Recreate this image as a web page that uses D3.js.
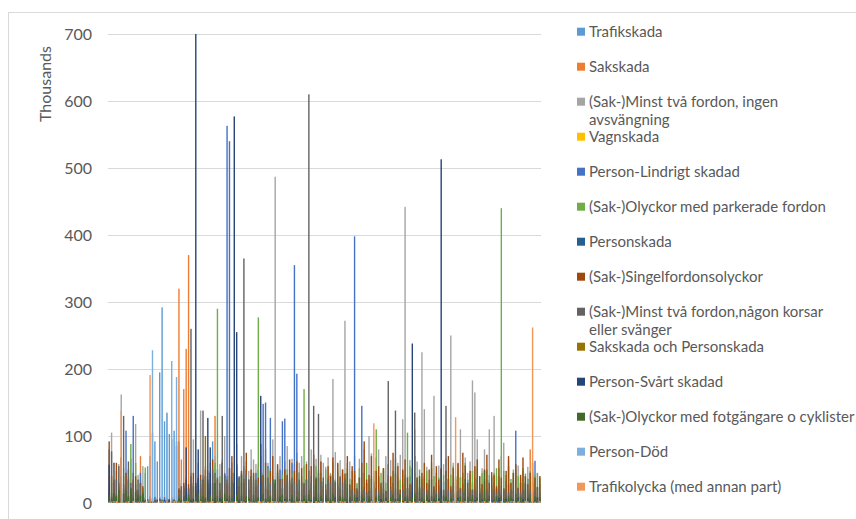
<!DOCTYPE html>
<html>
<head>
<meta charset="utf-8">
<script src="https://cdn.jsdelivr.net/npm/d3@7"></script>
<style>
  html, body { margin: 0; padding: 0; background: #fff; }
  svg { display: block; }
  text { font-family: Lato, "Open Sans", sans-serif; }
</style>
</head>
<body>
<svg id="chart" width="856" height="519"></svg>
<script>
// Olyckor per kategori (tusental), 180 kategorier, 14 serier
const categoryCount = 180;
const categories = Array.from({ length: categoryCount }, (_, i) => i + 1);

const seriesNames = [
  "Trafikskada", "Sakskada", "(Sak-)Minst två fordon, ingen avsvängning", "Vagnskada",
  "Person-Lindrigt skadad", "(Sak-)Olyckor med parkerade fordon", "Personskada",
  "(Sak-)Singelfordonsolyckor", "(Sak-)Minst två fordon,någon korsar eller svänger",
  "Sakskada och Personskada", "Person-Svårt skadad", "(Sak-)Olyckor med fotgängare o cyklister",
  "Person-Död", "Trafikolycka (med annan part)"
];
const legendLines = [
  ["Trafikskada"], ["Sakskada"], ["(Sak-)Minst två fordon, ingen", "avsvängning"], ["Vagnskada"],
  ["Person-Lindrigt skadad"], ["(Sak-)Olyckor med parkerade fordon"], ["Personskada"],
  ["(Sak-)Singelfordonsolyckor"], ["(Sak-)Minst två fordon,någon korsar", "eller svänger"],
  ["Sakskada och Personskada"], ["Person-Svårt skadad"], ["(Sak-)Olyckor med fotgängare o cyklister"],
  ["Person-Död"], ["Trafikolycka (med annan part)"]
];
const seriesColors = [
  "#5B9BD5", "#ED7D31", "#A5A5A5", "#FFC000", "#4472C4", "#70AD47", "#255E91",
  "#9E480E", "#636363", "#997300", "#264478", "#43682B", "#7CAFDD", "#F1975A"
];

const yTicks = [0, 100, 200, 300, 400, 500, 600, 700];

const trafikskada = [
  10,8,12,6,14,9,20,11,7,15,12,8,18,10,14,45,55,70,105,92,
  62,195,292,122,134,103,95,108,85,92,30,22,18,15,22,12,18,15,20,14,
  18,25,16,92,12,20,15,22,18,30,25,12,10,16,22,14,20,18,12,15,
  24,16,20,12,18,22,14,10,26,15,12,18,20,14,16,22,12,18,10,15,
  20,14,12,18,22,16,10,14,20,12,18,15,22,16,12,20,14,10,18,16,
  12,18,22,15,10,14,20,16,12,18,14,22,10,16,20,12,18,14,15,22,
  16,12,20,14,18,10,22,15,12,20,16,14,18,12,10,20,15,22,14,16,
  18,14,10,20,16,12,22,14,18,16,12,20,10,14,18,22,16,12,20,14,
  12,20,16,14,22,18,10,15,20,12,16,14,18,22,12,16,20,14,10,12
];
const sakskada = [
  5,12,8,15,10,22,14,6,18,12,9,16,8,70,12,4,3,5,2,4,
  3,5,2,4,6,3,5,2,4,320,65,170,230,370,28,22,15,20,18,25,
  30,18,22,24,130,15,28,20,12,18,25,14,20,16,22,10,18,14,24,12,
  18,22,14,26,16,20,12,18,24,14,20,16,22,12,18,26,14,20,16,22,
  14,20,16,24,12,18,22,14,16,20,12,24,18,14,22,16,20,12,18,14,
  20,16,22,12,18,14,24,16,20,12,18,22,14,16,20,12,24,18,14,16,
  18,12,20,16,22,14,18,12,24,16,20,14,18,22,12,16,20,14,18,12,
  22,16,12,20,18,14,24,12,16,20,14,18,22,12,16,20,14,18,12,22,
  16,20,14,18,12,22,16,20,14,12,18,16,22,14,20,80,16,22,14,18
];
const minstTvaIngen = [
  40,105,60,48,58,162,52,45,38,66,30,118,42,35,55,8,6,10,5,9,
  7,10,6,12,8,5,9,7,11,25,35,28,40,22,45,95,30,60,138,42,
  55,48,60,42,70,35,58,65,100,40,52,60,45,88,38,70,55,62,48,80,
  65,58,60,70,45,80,60,52,95,487,55,70,48,62,85,50,66,58,75,60,
  70,55,62,48,80,58,66,50,72,60,54,68,45,185,76,58,64,50,272,60,
  62,35,70,28,66,45,80,30,100,74,35,68,80,25,48,70,40,64,30,66,
  60,72,125,442,40,64,30,110,62,35,225,140,54,30,60,160,40,56,35,58,
  66,35,250,60,40,58,110,30,68,45,62,183,165,95,30,52,80,35,110,40,
  130,40,52,70,90,35,64,30,50,45,56,30,48,40,54,30,46,35,44,40
];
const vagnskada = [
  0,2,0,1,0,3,0,0,2,0,1,0,0,2,0,1,0,3,0,2,
  0,1,0,0,2,0,1,0,0,5,0,6,0,2,0,1,0,0,2,0,
  4,0,1,0,2,0,0,1,0,2,0,0,1,0,3,0,0,1,0,2,
  0,1,0,2,0,0,1,0,0,2,0,1,0,0,2,0,1,0,0,1,
  0,0,2,0,1,0,0,1,0,2,0,0,1,0,0,2,0,1,0,0,
  1,0,0,2,0,1,0,0,2,0,1,0,0,1,0,0,2,0,1,0,
  0,2,0,0,1,0,0,2,0,1,0,0,2,0,1,0,0,1,0,2,
  0,1,0,0,2,0,1,0,0,1,0,2,0,0,1,0,2,0,0,1,
  0,0,1,0,2,0,0,1,0,0,2,0,1,0,0,1,0,2,0,0
];
const personLindrigt = [
  20,15,30,12,25,18,22,108,35,16,130,28,20,45,18,8,6,10,7,9,
  6,8,5,9,7,6,8,5,92,20,20,25,18,22,30,25,15,20,28,35,
  40,30,25,30,35,50,28,60,45,563,540,35,30,25,40,45,30,50,35,40,
  35,45,50,40,148,150,55,127,35,30,45,50,122,126,40,35,60,355,193,45,
  30,22,35,18,40,26,15,38,24,32,20,28,42,16,34,25,38,20,30,22,
  26,34,398,20,38,145,24,30,18,36,28,22,40,26,32,18,35,24,30,20,
  32,20,28,36,22,40,26,18,34,24,30,38,20,28,35,22,30,26,18,32,
  24,36,20,30,26,18,38,28,22,34,20,30,26,36,18,28,32,22,34,26,
  30,22,36,26,20,32,28,18,34,108,24,30,20,28,36,22,30,63,24,28
];
const parkeradeFordon = [
  25,30,18,35,22,28,40,20,32,88,25,60,18,30,22,53,4,6,3,5,
  4,6,3,5,4,6,3,5,4,15,18,12,22,15,10,25,18,30,22,28,
  35,28,45,30,60,290,40,32,38,25,30,45,28,55,35,40,30,48,32,38,
  42,35,277,30,45,38,52,28,40,35,48,30,42,36,50,32,44,38,30,46,
  40,170,35,48,30,42,55,36,45,32,50,38,42,60,35,48,30,44,38,52,
  36,48,42,30,52,38,45,60,35,40,48,110,36,45,52,30,42,38,48,55,
  40,35,48,42,105,55,30,45,38,50,36,42,48,35,52,40,45,38,50,42,
  48,36,42,55,40,50,38,45,60,35,42,48,38,52,40,45,36,50,42,38,
  45,52,40,440,48,42,55,36,45,50,40,38,52,44,36,48,40,42,45,36
];
const personskada = [
  15,10,20,12,18,8,14,22,10,16,12,20,8,14,10,4,3,5,2,4,
  3,5,2,4,3,5,2,4,3,8,6,10,5,8,6,9,12,7,10,6,
  9,6,11,7,10,5,12,6,9,11,7,10,6,9,5,11,7,10,6,9,
  7,10,5,9,11,6,10,7,5,12,9,6,10,7,11,5,9,6,10,7,
  6,9,11,7,5,10,6,9,12,7,10,5,9,6,11,7,10,6,9,5,
  10,6,9,5,11,7,6,10,7,9,5,11,6,10,7,9,6,5,10,7,
  7,11,6,10,5,9,7,6,11,7,10,6,9,5,7,10,6,11,7,9,
  9,6,10,7,11,5,9,7,6,10,7,9,11,6,10,5,7,9,6,10,
  6,10,7,9,5,11,6,10,9,7,6,11,7,9,10,6,7,5,9,6
];
const singelfordon = [
  92,40,35,60,30,68,28,45,50,22,35,40,18,30,25,5,4,6,3,5,
  4,6,3,5,4,6,3,5,4,22,25,30,35,28,40,45,30,38,42,35,
  50,22,45,65,30,35,18,60,42,28,52,70,30,58,25,48,36,75,20,50,
  45,25,38,88,42,60,20,48,70,30,58,36,22,50,42,65,28,48,62,18,
  52,30,58,20,55,72,35,45,62,25,20,55,40,68,30,60,22,50,44,70,
  28,55,48,20,38,60,92,35,42,70,25,48,55,30,52,18,58,40,75,44,
  55,20,50,65,38,28,52,70,38,22,45,60,30,50,72,25,55,35,52,20,
  48,70,25,52,35,60,22,75,56,30,48,20,55,65,40,28,50,72,30,46,
  42,25,65,38,20,48,70,30,45,58,22,42,68,40,28,45,60,38,24,40
];
const minstTvaKorsar = [
  80,77,60,35,55,40,130,25,62,30,45,20,35,28,15,4,3,5,2,4,
  3,5,2,4,3,5,2,4,3,12,18,22,15,20,260,30,25,35,35,138,
  40,35,28,50,45,38,30,130,42,35,40,32,45,38,38,30,365,42,35,40,
  30,35,28,40,32,25,38,30,35,28,40,32,36,28,35,30,38,32,28,35,
  32,28,35,610,30,145,28,133,32,38,28,35,30,38,32,28,40,30,35,28,
  18,20,15,22,16,18,20,15,18,22,16,20,18,15,22,18,182,20,15,138,
  18,15,20,16,22,18,15,135,18,16,20,22,15,18,16,20,18,15,22,18,
  145,20,18,22,15,18,20,16,18,22,15,20,16,18,22,15,20,18,16,20,
  18,15,20,16,22,18,15,20,18,16,22,15,20,18,16,20,15,18,22,16
];
const sakOchPerson = [
  2,4,0,3,1,5,2,0,3,1,4,2,0,3,1,0,2,0,1,0,
  1,0,2,0,1,0,2,1,0,3,2,4,1,3,2,5,3,2,4,3,
  100,3,2,4,1,3,5,2,4,1,3,2,4,1,5,3,2,4,1,3,
  2,4,1,3,5,2,4,1,3,2,4,1,3,5,2,4,1,3,2,4,
  3,1,4,2,3,5,1,4,2,3,1,4,2,3,5,1,4,2,3,1,
  4,2,3,1,4,2,5,3,1,4,2,3,1,4,2,3,5,1,4,2,
  1,3,5,2,4,1,3,2,4,1,5,3,2,4,1,3,2,4,1,3,
  3,1,4,2,5,3,1,4,2,3,1,4,2,5,3,1,4,2,3,1,
  2,4,1,3,2,5,1,4,3,2,4,1,3,2,4,1,3,2,4,1
];
const personSvart = [
  57,6,4,8,3,7,5,2,8,4,3,6,7,2,5,3,2,4,3,2,
  4,2,3,5,2,4,3,2,4,6,3,5,83,7,4,6,700,80,5,3,
  6,127,83,4,8,3,7,5,2,6,4,3,577,255,5,7,2,4,6,3,
  5,3,7,160,2,6,4,8,3,5,2,7,4,6,3,5,8,2,6,4,
  3,6,2,7,4,5,8,3,6,2,7,4,5,3,8,2,6,4,3,7,
  6,2,5,8,3,7,4,2,6,5,3,8,2,6,4,7,3,5,2,6,
  4,7,3,5,8,2,238,6,3,7,4,2,8,5,3,6,4,7,513,3,
  7,3,6,2,5,8,4,3,7,5,2,6,4,8,3,5,7,2,6,4,
  3,5,8,4,2,6,7,3,5,4,8,2,6,3,7,4,2,5,8,3
];
const fotgangare = [
  12,8,15,10,20,6,14,18,10,22,8,16,12,10,14,3,2,4,2,3,
  2,3,4,2,3,2,4,3,2,8,5,10,4,12,6,3,9,14,5,11,
  8,4,12,6,30,10,3,9,14,5,11,7,2,13,6,42,4,10,8,3,
  12,5,9,3,14,7,2,11,6,35,4,10,13,3,8,5,12,2,9,6,
  4,11,6,13,2,9,38,5,10,3,12,7,4,14,6,2,11,8,5,45,
  9,3,12,6,4,13,8,2,10,5,32,7,11,3,14,6,2,9,12,4,
  6,13,2,9,11,4,7,14,3,40,8,5,12,2,10,6,13,4,7,11,
  11,4,8,2,13,6,10,3,36,9,5,12,2,7,14,4,48,6,11,3,
  5,10,3,12,7,2,11,8,4,13,6,9,2,30,5,12,3,10,6,8
];
const personDod = [
  2,0,3,1,0,2,1,0,3,0,2,1,0,2,1,0,3,0,228,2,
  1,3,0,2,135,1,212,2,188,0,1,3,0,2,1,0,2,1,3,0,
  1,0,2,3,0,1,2,0,3,1,0,2,1,3,0,2,1,0,3,1,
  0,2,1,0,3,1,2,0,1,3,0,2,1,0,2,3,1,0,2,1,
  2,1,0,3,1,0,2,1,3,0,2,1,0,3,1,2,0,1,3,0,
  1,3,0,2,1,0,3,2,0,1,2,0,3,1,0,2,1,3,0,2,
  0,2,1,3,0,2,1,0,2,3,1,0,2,1,3,0,2,1,0,3,
  3,0,2,1,0,3,1,2,0,1,3,0,2,1,0,2,3,0,1,2,
  1,2,0,3,1,0,2,3,1,0,2,1,0,3,2,1,0,2,1,3
];
const trafikolycka = [
  1,2,0,3,1,138,0,2,1,0,3,1,2,0,1,2,0,191,1,0,
  2,1,3,0,2,1,0,3,1,2,0,1,3,2,0,1,2,0,3,1,
  0,2,1,3,0,2,1,0,2,3,1,0,2,1,0,3,2,1,0,2,
  1,0,3,2,1,0,2,1,3,0,2,1,0,3,1,2,0,1,2,3,
  2,3,0,1,2,0,3,1,0,2,1,3,0,2,1,0,3,2,1,0,
  0,1,2,0,3,1,2,0,1,3,119,2,0,1,2,3,0,1,2,0,
  3,0,1,2,0,3,1,2,0,1,2,0,3,1,0,2,1,3,0,2,
  1,2,0,3,128,0,2,1,3,0,1,2,0,3,1,0,2,1,3,0,
  2,0,1,3,0,2,1,0,3,1,2,0,1,3,2,0,262,1,0,2
];

const seriesValues = [
  trafikskada, sakskada, minstTvaIngen, vagnskada, personLindrigt, parkeradeFordon,
  personskada, singelfordon, minstTvaKorsar, sakOchPerson, personSvart, fotgangare,
  personDod, trafikolycka
];

const svg = d3.select("#chart");
const W = 856, H = 519;
const plot = { left: 108, right: 541, top: 34, bottom: 503 };

// chart area frame
svg.append("rect")
  .attr("x", 8.5).attr("y", 12.5)
  .attr("width", W + 20).attr("height", H + 20)
  .attr("fill", "none").attr("stroke", "#d9d9d9").attr("stroke-width", 1);

const x = d3.scaleBand()
  .domain(categories)
  .range([plot.left, plot.right])
  .paddingInner(0.42)
  .paddingOuter(0.2);

const y = d3.scaleLinear()
  .domain([0, 700])
  .range([plot.bottom, plot.top]);

// horizontal gridlines
svg.append("g")
  .selectAll("line")
  .data(yTicks.filter(t => t > 0))
  .join("line")
  .attr("x1", plot.left).attr("x2", plot.right)
  .attr("y1", d => Math.round(y(d)) + 0.5).attr("y2", d => Math.round(y(d)) + 0.5)
  .attr("stroke", "#d9d9d9").attr("stroke-width", 1);

// y axis labels
const yAxis = d3.axisLeft(y).tickValues(yTicks).tickSize(0).tickPadding(16);
const gy = svg.append("g").attr("transform", `translate(${plot.left},0)`).call(yAxis);
gy.select(".domain").remove();
gy.selectAll("text")
  .attr("fill", "#595959")
  .style("font-size", "16px")
  .style("font-family", "Lato, 'Open Sans', sans-serif");

// axis title
svg.append("text")
  .attr("transform", "translate(51,84) rotate(-90)")
  .attr("text-anchor", "middle")
  .attr("fill", "#595959")
  .style("font-size", "16px")
  .text("Thousands");

// bars: all series share each category slot, later series drawn on top
const barW = x.bandwidth();
seriesValues.forEach((vals, s) => {
  svg.append("g")
    .attr("fill", seriesColors[s])
    .selectAll("rect")
    .data(vals.map((v, i) => ({ cat: categories[i], v })))
    .join("rect")
    .attr("x", d => x(d.cat))
    .attr("width", barW)
    .attr("y", d => y(d.v))
    .attr("height", d => y(0) - y(d.v));
});

// legend
const legend = svg.append("g");
const rowY = d3.scaleLinear().domain([0, 13]).range([31.7, 486.7]);
legendLines.forEach((lines, i) => {
  const cy = rowY(i);
  legend.append("rect")
    .attr("x", 577).attr("y", cy - 4)
    .attr("width", 8).attr("height", 8)
    .attr("fill", seriesColors[i]);
  lines.forEach((ln, k) => {
    legend.append("text")
      .attr("x", 589).attr("y", cy + k * 18.4)
      .attr("dy", "0.35em")
      .attr("fill", "#595959")
      .style("font-size", "15px")
      .text(ln);
  });
});
</script>
</body>
</html>
